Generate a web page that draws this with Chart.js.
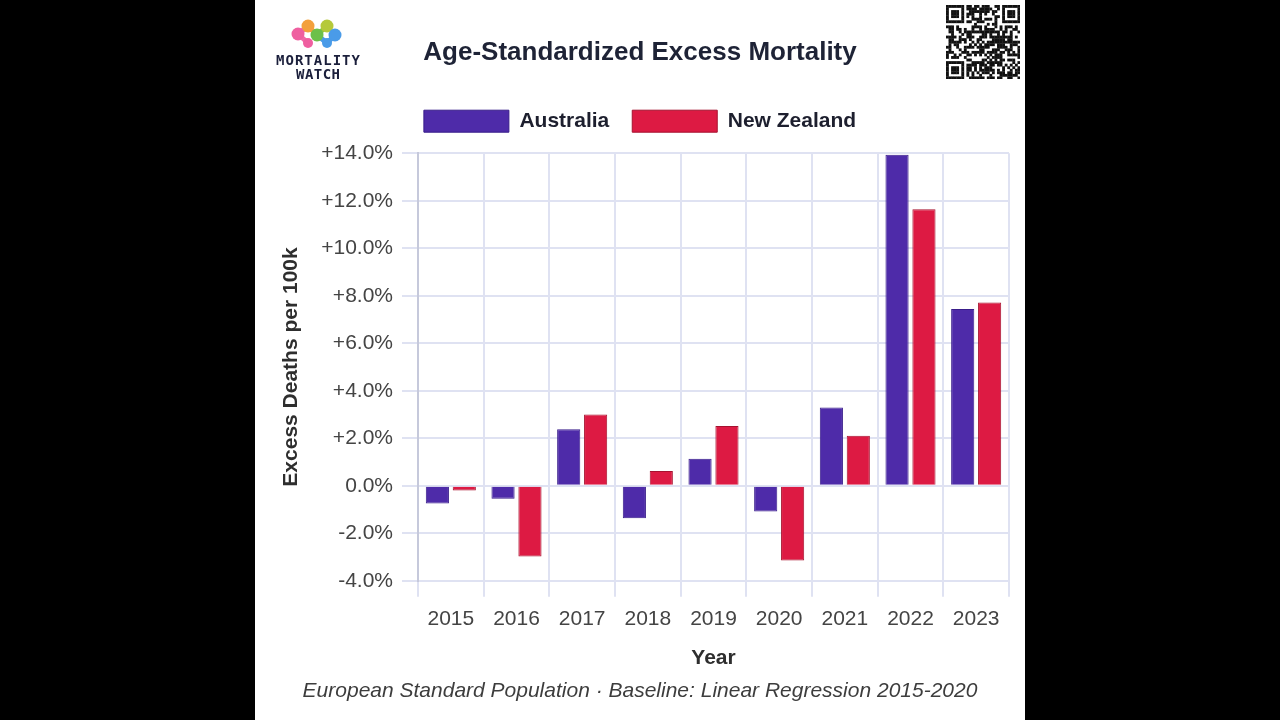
<!DOCTYPE html>
<html>
<head>
<meta charset="utf-8">
<script src="https://cdn.jsdelivr.net/npm/chart.js@4.4.1/dist/chart.umd.min.js"></script>
<style>
  html, body { margin: 0; padding: 0; background: #000; }
  body { width: 1280px; height: 720px; position: relative; overflow: hidden; }
  #panel { position: absolute; left: 255px; top: 0; width: 770px; height: 720px; background: #fff; }
  #chart-wrap { position: absolute; left: 0; top: 0; width: 770px; height: 720px; }
  #logo { position: absolute; left: 0; top: 0; }
  #qr { position: absolute; left: 691px; top: 5px; }
</style>
</head>
<body>
<div id="panel">
  <div id="chart-wrap"><canvas id="chart"></canvas></div>
  <svg id="logo" width="130" height="90" viewBox="0 0 130 90">
    <g stroke-width="5" stroke-linecap="round">
      <line x1="43" y1="34" x2="53" y2="26" stroke="#f06aa8"/>
      <line x1="43" y1="34" x2="53" y2="43" stroke="#f06aa8"/>
      <line x1="53" y1="26" x2="62" y2="35" stroke="#f3a03c"/>
      <line x1="62" y1="35" x2="72" y2="26" stroke="#8cc63f"/>
      <line x1="62" y1="35" x2="72" y2="43" stroke="#4a9be8"/>
      <line x1="72" y1="43" x2="80" y2="35" stroke="#4a9be8"/>
    </g>
    <circle cx="53" cy="26" r="6.5" fill="#f3a03c"/>
    <circle cx="72" cy="26" r="6.5" fill="#b5c93a"/>
    <circle cx="43" cy="34" r="6.5" fill="#ef5fa0"/>
    <circle cx="62" cy="35" r="6.5" fill="#6cc04a"/>
    <circle cx="80" cy="35" r="6.5" fill="#4a9be8"/>
    <circle cx="53" cy="43" r="5" fill="#ef5fa0"/>
    <circle cx="72" cy="43" r="5" fill="#4a9be8"/>
    <text x="63" y="65" text-anchor="middle" textLength="84" font-family="DejaVu Sans Mono" font-weight="bold" font-size="14" fill="#1b1f3b">MORTALITY</text>
    <text x="63" y="79" text-anchor="middle" textLength="44" font-family="DejaVu Sans Mono" font-weight="bold" font-size="14" fill="#1b1f3b">WATCH</text>
  </svg>
  <canvas id="qr" width="74" height="74"></canvas>
</div>
<script>
const years = ['2015', '2016', '2017', '2018', '2019', '2020', '2021', '2022', '2023'];
const australia = [-0.75, -0.55, 2.38, -1.37, 1.14, -1.08, 3.3, 13.93, 7.44];
const newZealand = [-0.2, -2.98, 3.0, 0.62, 2.52, -3.15, 2.11, 11.64, 7.72];
const seriesNames = ['Australia', 'New Zealand'];
const yMin = -4;
const yMax = 14;
const yStep = 2;

const gridColor = '#dfe2f2';
const tickColor = '#444444';
const fontFamily = '"Liberation Sans", Arial, Helvetica, sans-serif';

Chart.defaults.font.family = fontFamily;

// the legend sits a bit higher above the plot than Chart.js leaves room for
const legendGap = {
  id: 'legendGap',
  beforeLayout(chart) {
    const legend = chart.legend;
    if (!legend || legend._gapPatched) return;
    const fit = legend.fit;
    legend.fit = function () {
      fit.call(this);
      this.height += 11;
    };
    legend._gapPatched = true;
  }
};

new Chart(document.getElementById('chart'), {
  type: 'bar',
  data: {
    labels: years,
    datasets: [
      {
        label: seriesNames[0],
        data: australia,
        backgroundColor: '#4e2ba9',
        borderColor: '#391d8a',
        borderWidth: 1
      },
      {
        label: seriesNames[1],
        data: newZealand,
        backgroundColor: '#dd1a43',
        borderColor: '#a6122f',
        borderWidth: 1
      }
    ]
  },
  options: {
    responsive: true,
    maintainAspectRatio: false,
    animation: false,
    layout: { padding: { left: 16, right: 16, top: 0, bottom: 0 } },
    datasets: { bar: { categoryPercentage: 0.82, barPercentage: 0.86 } },
    plugins: {
      title: {
        display: true,
        text: 'Age-Standardized Excess Mortality',
        color: '#1e2336',
        font: { size: 26, weight: 'bold' },
        padding: { top: 37, bottom: 19 }
      },
      subtitle: {
        display: true,
        position: 'bottom',
        text: 'European Standard Population · Baseline: Linear Regression 2015-2020',
        color: '#3d3d3d',
        font: { size: 21, style: 'italic' },
        padding: { top: 8, bottom: 16 }
      },
      legend: {
        position: 'top',
        labels: {
          boxWidth: 85,
          boxHeight: 22,
          padding: 23,
          color: '#1d1f2e',
          font: { size: 21, weight: 'bold' }
        }
      },
      tooltip: { enabled: false }
    },
    scales: {
      x: {
        grid: { color: gridColor, lineWidth: 2, tickLength: 16, offset: true },
        border: { color: gridColor, width: 2 },
        ticks: { color: tickColor, font: { size: 21 }, padding: 10, maxRotation: 0 },
        title: {
          display: true,
          text: 'Year',
          color: '#2e2e2e',
          font: { size: 21, weight: 'bold' },
          padding: { top: 0, bottom: 0 }
        },
        afterFit(scale) { scale.height = 90; }
      },
      y: {
        min: yMin,
        max: yMax,
        grid: { color: gridColor, lineWidth: 2, tickLength: 16 },
        border: { color: '#c6c9db', width: 2 },
        ticks: {
          stepSize: yStep,
          color: tickColor,
          font: { size: 21 },
          padding: 9,
          callback: (v) => (v > 0 ? '+' : '') + Number(v).toFixed(1) + '%'
        },
        title: {
          display: true,
          text: 'Excess Deaths per 100k',
          color: '#2e2e2e',
          font: { size: 21, weight: 'bold' },
          padding: { top: 8, bottom: 0 }
        },
        afterFit(scale) { scale.width = 147; }
      }
    }
  },
  plugins: [legendGap]
});

// decorative QR-like code in the top right corner
function drawQr() {
  const ctx = document.getElementById('qr').getContext('2d');
  const n = 29;
  const m = 74 / n;
  ctx.fillStyle = '#fff';
  ctx.fillRect(0, 0, 74, 74);
  ctx.fillStyle = '#111';
  const finder = (r, c) => r >= 0 && r < 7 && c >= 0 && c < 7;
  for (let r = 0; r < n; r++) {
    for (let c = 0; c < n; c++) {
      let on;
      const corner = [[0, 0], [0, n - 7], [n - 7, 0]].find(([r0, c0]) => finder(r - r0, c - c0));
      if (corner) {
        const rr = r - corner[0], cc = c - corner[1];
        const ring = Math.min(rr, cc, 6 - rr, 6 - cc);
        on = ring !== 1;
      } else if ((r === 7 && (c < 8 || c > n - 9)) || (c === 7 && (r < 8 || r > n - 9)) || (r === n - 8 && c < 8) || (c === n - 8 && r < 8)) {
        on = false;
      } else {
        let h = (r * 73856093) ^ (c * 19349663) ^ (r * c * 83492791);
        h = (h ^ (h >>> 13)) * 1274126177;
        on = ((h >>> 7) & 3) < 2;
      }
      if (on) ctx.fillRect(c * m, r * m, m + 0.3, m + 0.3);
    }
  }
}
drawQr();
</script>
</body>
</html>
